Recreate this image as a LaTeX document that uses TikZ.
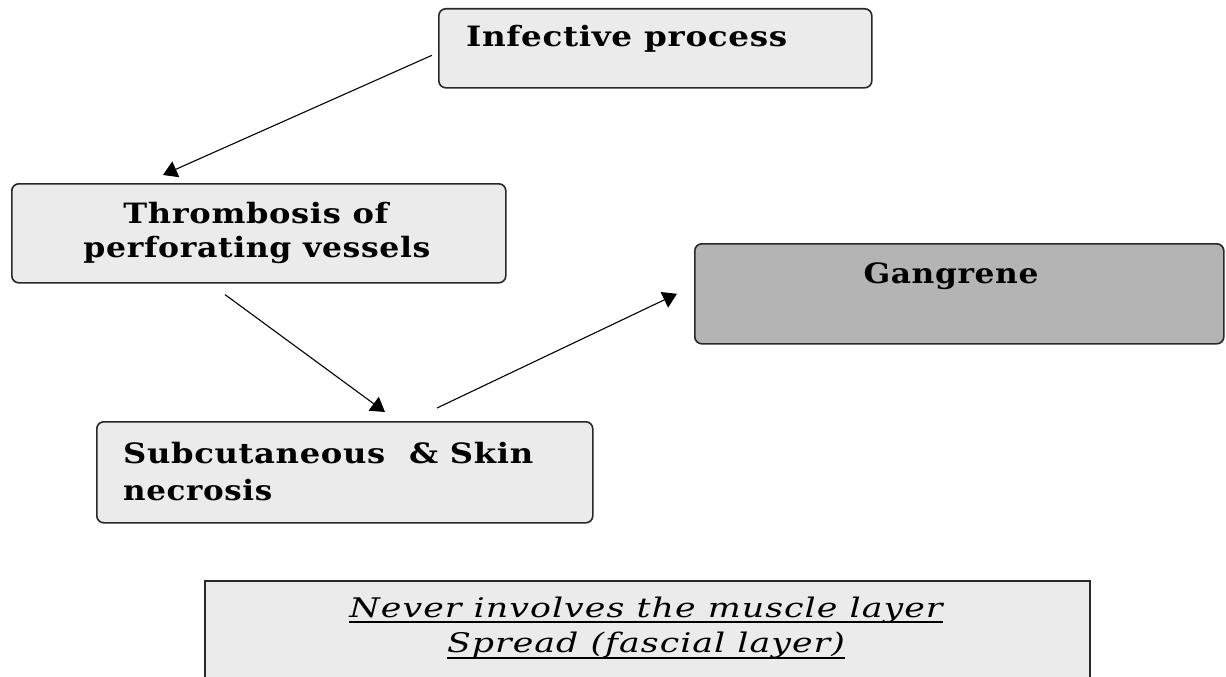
\documentclass[tikz,border=0pt]{standalone}
\usepackage{fontspec}
\usepackage{graphicx}
\usetikzlibrary{arrows.meta}
\newfontfamily\boxfont{DejaVu Serif}[LetterSpace=2]
\newfontfamily\notefont{DejaVu Serif}[LetterSpace=3]
\newcommand\fitw[2]{\resizebox{#1}{\height}{#2}}
\definecolor{lightbox}{HTML}{EBEBEB}
\definecolor{darkbox}{HTML}{B4B4B4}
\definecolor{edgecol}{HTML}{282828}
\begin{document}
\begin{tikzpicture}[x=1pt,y=-1pt,
  box/.style={draw=edgecol, line width=1.6pt, fill=lightbox, rounded corners=7pt,
    anchor=north west, inner sep=0pt},
  darkboxstyle/.style={box, fill=darkbox},
  notebox/.style={draw=edgecol, line width=1.8pt, fill=lightbox, anchor=north west, inner sep=0pt},
  tx/.style={inner sep=0pt, font=\boxfont\bfseries\fontsize{28}{30}\selectfont, text=black},
  ntx/.style={inner sep=0pt, font=\notefont\itshape\fontsize{27}{29}\selectfont, text=black},
  arr/.style={line width=1.1pt, draw=black, -{Triangle[width=17pt,length=14pt]}},
  uline/.style={line width=1.4pt, draw=black}]
\useasboundingbox (0,0) rectangle (1226,677);
\clip (0,0) rectangle (1226,677);
\fill[white] (0,0) rectangle (1226,677);

% boxes
\node[box, minimum width=433pt, minimum height=79pt] (inf) at (438,8) {};
\node[box, minimum width=494pt, minimum height=99pt] (thr) at (11,183) {};
\node[darkboxstyle, minimum width=529pt, minimum height=100pt] (gan) at (694,243) {};
\node[box, minimum width=496pt, minimum height=101pt] (sub) at (96,421) {};
\node[notebox, minimum width=885pt, minimum height=130pt] (note) at (204,580) {};

% texts
\node[tx, anchor=base west] (tinf) at (466,47) {\fitw{321pt}{Infective process}};
\node[tx, anchor=base] (tthr1) at (256,223) {\fitw{265pt}{Thrombosis of}};
\node[tx, anchor=base] (tthr2) at (257,257) {\fitw{347pt}{perforating vessels}};
\node[tx, anchor=base] (tgan) at (951,283) {\fitw{175pt}{Gangrene}};
\node[tx, anchor=base west] (tsub1) at (123,463) {\fitw{410pt}{Subcutaneous\ \ \& Skin}};
\node[tx, anchor=base west] (tsub2) at (123,500) {\fitw{149pt}{necrosis}};
\node[ntx, anchor=base] (tn1) at (646,617) {\fitw{593pt}{Never involves the muscle layer}};
\node[ntx, anchor=base] (tn2) at (646,652) {\fitw{398pt}{Spread (fascial layer)}};
\draw[uline] ([yshift=-5pt]tn1.base west) -- ([yshift=-5pt]tn1.base east);
\draw[uline] ([yshift=-6pt]tn2.base west) -- ([yshift=-6pt]tn2.base east);

% connectors
\draw[arr] ([xshift=-6pt,yshift=-7pt]inf.west) -- ([xshift=152pt,yshift=8pt]thr.north west);
\draw[arr] ([xshift=214pt,yshift=-11pt]thr.south west) -- ([xshift=289pt,yshift=9pt]sub.north west);
\draw[arr] ([xshift=341pt,yshift=13pt]sub.north west) -- ([xshift=-17pt]gan.west);
\end{tikzpicture}
\end{document}
